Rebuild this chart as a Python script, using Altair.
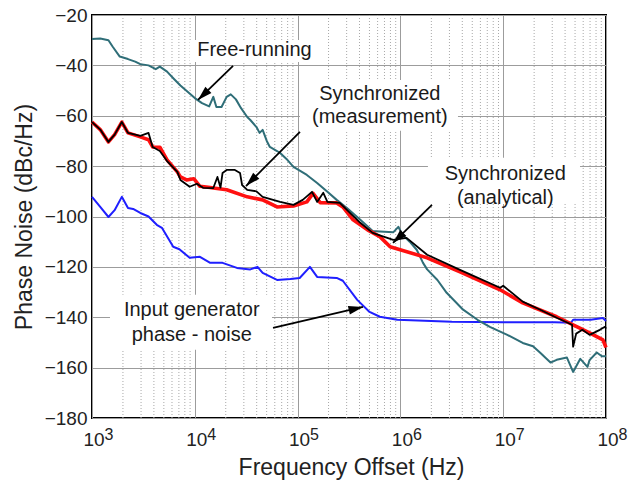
import math

import altair as alt
import numpy as np
import pandas as pd

# ---- phase-noise traces: log10(offset frequency / Hz) and level in dBc/Hz ----
free_exp = [3.00, 3.08, 3.16, 3.20, 3.27, 3.35, 3.42, 3.47, 3.55, 3.62,
            3.66, 3.73, 3.80, 3.86, 3.93, 4.00, 4.07, 4.14, 4.18, 4.21,
            4.26, 4.31, 4.35, 4.40, 4.45, 4.51, 4.54, 4.60, 4.63, 4.66,
            4.70, 4.73, 4.80, 4.83, 4.90, 4.96, 5.09, 5.19, 5.29, 5.38,
            5.48, 5.61, 5.73, 5.80, 5.93, 5.98, 6.02, 6.09, 6.16, 6.22,
            6.26, 6.36, 6.45, 6.61, 6.75, 6.87, 7.04, 7.19, 7.29, 7.36,
            7.46, 7.52, 7.62, 7.68, 7.75, 7.82, 7.84, 7.91, 7.96, 8.00]
free_db = [-29.5, -29.3, -30.0, -32.5, -36.5, -37.5, -38.5, -39.5, -40.0, -41.5,
           -40.5, -42.5, -45.5, -48.0, -50.5, -53.0, -55.0, -56.3, -52.5, -56.5,
           -56.5, -52.5, -51.5, -53.5, -57.0, -60.5, -61.7, -64.5, -66.8, -65.6,
           -70.0, -72.4, -74.0, -74.8, -77.5, -80.3, -83.5, -86.7, -90.2, -93.4,
           -96.6, -101.3, -105.8, -106.0, -106.3, -104.1, -107.3, -110.0, -113.3, -118.4,
           -121.0, -125.2, -130.3, -137.0, -141.0, -143.8, -147.0, -150.2, -151.5, -154.1,
           -158.0, -156.9, -156.0, -161.7, -156.5, -159.7, -157.0, -154.0, -155.5, -155.5]

meas_exp = [3.00, 3.08, 3.16, 3.22, 3.29, 3.35, 3.47, 3.55, 3.59, 3.66,
            3.73, 3.83, 3.86, 3.95, 4.02, 4.08, 4.18, 4.22, 4.25, 4.27,
            4.31, 4.39, 4.44, 4.46, 4.51, 4.60, 4.66, 4.83, 4.96, 5.05,
            5.14, 5.19, 5.25, 5.29, 5.41, 5.48, 5.61, 5.73, 5.80, 5.93,
            6.06, 6.26, 6.58, 6.97, 7.00, 7.19, 7.36, 7.52, 7.67, 7.68,
            7.71, 7.77, 7.84, 7.94, 7.99, 8.00]
meas_db = [-62.5, -65.5, -70.4, -67.5, -62.5, -66.8, -68.0, -66.8, -72.4, -74.0,
           -78.0, -82.3, -85.5, -88.2, -87.0, -88.6, -88.7, -84.3, -88.5, -82.7,
           -81.5, -81.5, -82.7, -87.5, -89.4, -90.0, -92.2, -94.2, -95.4, -93.4,
           -90.2, -94.2, -90.6, -94.2, -94.6, -97.4, -102.5, -106.5, -107.5, -109.3,
           -108.5, -115.2, -121.2, -128.3, -127.5, -133.8, -137.0, -140.2, -143.0, -151.7,
           -146.5, -145.0, -147.0, -145.0, -143.8, -144.5]

anal_exp = [3.00, 3.08, 3.16, 3.22, 3.29, 3.35, 3.47, 3.55, 3.59, 3.66,
            3.73, 3.83, 3.86, 3.92, 3.99, 4.05, 4.15, 4.18, 4.31, 4.51,
            4.66, 4.80, 4.96, 5.09, 5.15, 5.22, 5.38, 5.44, 5.54, 5.68,
            5.80, 5.90, 6.26, 6.58, 6.97, 7.19, 7.52, 7.72, 7.84, 7.97, 8.00]
anal_db = [-62.5, -65.5, -70.4, -67.5, -62.5, -66.8, -68.4, -69.5, -72.4, -72.5,
           -77.5, -82.3, -84.3, -85.5, -85.0, -88.0, -88.5, -88.7, -89.4, -92.2,
           -93.4, -96.2, -95.8, -94.2, -90.8, -94.5, -94.6, -96.2, -101.3, -105.3,
           -108.0, -112.0, -116.4, -122.0, -129.1, -134.3, -139.8, -143.8, -146.2, -149.0, -152.0]

input_exp = [3.00, 3.08, 3.16, 3.22, 3.29, 3.35, 3.40, 3.47, 3.55, 3.63,
             3.68, 3.79, 3.85, 3.95, 4.05, 4.15, 4.27, 4.41, 4.54, 4.61,
             4.66, 4.80, 4.93, 5.02, 5.12, 5.19, 5.38, 5.44, 5.58, 5.70,
             5.80, 5.97, 6.50, 7.00, 7.50, 7.66, 7.68, 7.85, 7.97, 8.00]
input_db = [-92.2, -96.2, -100.2, -97.5, -92.2, -96.6, -97.0, -98.6, -100.0, -103.3,
            -104.5, -112.0, -113.0, -116.4, -116.0, -118.4, -118.4, -120.4, -121.0, -120.0,
            -122.4, -125.2, -124.8, -124.4, -120.0, -124.0, -124.4, -125.5, -133.1, -137.9,
            -139.8, -141.0, -141.8, -142.0, -142.0, -142.2, -141.0, -141.0, -140.3, -141.5]

# ---- axes ----
decade_exps = [3, 4, 5, 6, 7, 8]
minor_mults = [2, 3, 4, 5, 6, 7, 8, 9]
y_ticks = [-180, -160, -140, -120, -100, -80, -60, -40, -20]

# ---- annotations ----
note_exp = [4.58, 5.80, 5.80, 7.02, 7.02, 3.97, 3.97]
note_db = [-33.9, -51.3, -60.5, -83.1, -92.6, -137.1, -147.0]
note_text = ["Free-running", "Synchronized", "(measurement)",
             "Synchronized", "(analytical)", "Input generator", "phase - noise"]

arrow_tail_exp = [4.372, 5.023, 6.307, 4.761]
arrow_tail_db = [-40.2, -66.4, -95.4, -144.2]
arrow_tip_exp = [4.031, 4.498, 5.928, 5.636]
arrow_tip_db = [-53.7, -87.9, -110.5, -135.9]

# ---- layout / style ----
W, H = 514, 403
X_DOM = [1e3, 1e8]
Y_DOM = [-180, -20]
AXIS_FONT = "Liberation Sans, Arial, Helvetica, sans-serif"
TEXT_COLOR = "#222222"

# white panels behind the annotation text (exp_lo, exp_hi, dB_lo, dB_hi)
label_boxes = [
    (3.953, 5.218, -38.7, -29.9),
    (5.023, 6.560, -66.0, -45.8),
    (6.268, 7.747, -95.0, -76.7),
    (3.175, 4.751, -152.9, -131.1),
]

xs = alt.Scale(type="log", domain=X_DOM)
ys = alt.Scale(domain=Y_DOM, nice=False, zero=False)

x_axis = alt.Axis(
    values=[10.0 ** e for e in decade_exps],
    labelExpr="'10'",
    labelFont=AXIS_FONT, labelFontSize=19, labelColor=TEXT_COLOR,
    labelAlign="center", labelOffset=1.5, labelPadding=12,
    labelFlush=False, labelOverlap=False,
    ticks=False, domain=False,
    grid=True, gridColor="#9c9c9c", gridWidth=1,
    title="Frequency Offset (Hz)", titleFont=AXIS_FONT, titleFontSize=23,
    titleFontWeight="normal", titleColor=TEXT_COLOR,
    titleBaseline="alphabetic", titleY=56, titleX=W / 2 + 2,
)
y_axis = alt.Axis(
    values=y_ticks,
    labelFont=AXIS_FONT, labelFontSize=19, labelColor=TEXT_COLOR,
    labelPadding=5, ticks=False, domain=False,
    grid=True, gridColor="#9c9c9c", gridWidth=1,
    title="Phase Noise (dBc/Hz)", titleFont=AXIS_FONT, titleFontSize=23,
    titleFontWeight="normal", titleColor=TEXT_COLOR,
    titleAngle=270, titleBaseline="middle", titleAlign="center",
    titleX=-68, titleY=H / 2,
)


def X(field="f"):
    return alt.X(f"{field}:Q", scale=xs, axis=x_axis)


def Y(field="pn"):
    return alt.Y(f"{field}:Q", scale=ys, axis=y_axis)


def trace(exps, dbs):
    return pd.DataFrame({"f": np.power(10.0, exps), "pn": dbs, "i": range(len(exps))})


# minor (dotted) decade subdivisions
minor_df = pd.DataFrame({"f": [m * 10.0 ** d for d in decade_exps[:-1] for m in minor_mults]})
minor = alt.Chart(minor_df).mark_rule(
    color="#a8a8a8", strokeWidth=1, strokeDash=[1, 2]
).encode(x=X())

boxes_df = pd.DataFrame({
    "f": [10.0 ** b[0] for b in label_boxes],
    "f2": [10.0 ** b[1] for b in label_boxes],
    "pn": [b[2] for b in label_boxes],
    "pn2": [b[3] for b in label_boxes],
})
boxes = alt.Chart(boxes_df).mark_rect(color="white", opacity=1).encode(
    x=X(), x2="f2:Q", y=Y(), y2="pn2:Q"
)


def line(exps, dbs, color, width):
    return alt.Chart(trace(exps, dbs)).mark_line(
        color=color, strokeWidth=width, strokeJoin="round"
    ).encode(x=X(), y=Y(), order="i:Q")


blue_line = line(input_exp, input_db, "#1f1fff", 2.0)
teal_line = line(free_exp, free_db, "#2f6e78", 2.0)
red_line = line(anal_exp, anal_db, "#ff1010", 3.6)
black_line = line(meas_exp, meas_db, "#000000", 1.8)

notes_df = pd.DataFrame({"f": np.power(10.0, note_exp), "pn": note_db, "t": note_text})
notes = alt.Chart(notes_df).mark_text(
    font=AXIS_FONT, fontSize=20, color="#1a1a1a", align="center", baseline="middle"
).encode(x=X(), y=Y(), text="t:N")

# arrows: shaft + filled head rotated along the shaft direction
px_per_dec = W / (math.log10(X_DOM[1]) - math.log10(X_DOM[0]))
px_per_db = H / (Y_DOM[1] - Y_DOM[0])
angles = []
for te, td, he, hd in zip(arrow_tail_exp, arrow_tail_db, arrow_tip_exp, arrow_tip_db):
    dx = (he - te) * px_per_dec
    dy = -(hd - td) * px_per_db
    angles.append(math.degrees(math.atan2(dx, -dy)) % 360)

arrows_df = pd.DataFrame({
    "f": np.power(10.0, arrow_tail_exp), "pn": arrow_tail_db,
    "f2": np.power(10.0, arrow_tip_exp), "pn2": arrow_tip_db,
})
shafts = alt.Chart(arrows_df).mark_rule(color="black", strokeWidth=1.8).encode(
    x=X(), x2="f2:Q", y=Y(), y2="pn2:Q"
)
heads_df = pd.DataFrame({"f": np.power(10.0, arrow_tip_exp), "pn": arrow_tip_db, "a": angles})
heads = alt.Chart(heads_df).mark_point(
    shape="M0,0L0.6,2L-0.6,2Z", filled=True, color="black", opacity=1,
    size=210, strokeWidth=0
).encode(x=X(), y=Y(), angle=alt.Angle("a:Q", scale=None))

# superscript exponents next to the "10" tick labels
exp_df = pd.DataFrame({"f": [10.0 ** e for e in decade_exps], "t": [str(e) for e in decade_exps]})
exps = alt.Chart(exp_df).mark_text(
    font=AXIS_FONT, fontSize=16, color=TEXT_COLOR, align="left", baseline="alphabetic",
    dx=12.5
).encode(x=X(), y=alt.value(H + 22), text="t:N")

chart = alt.layer(
    minor, boxes, blue_line, teal_line, red_line, black_line,
    shafts, heads, notes, exps
).properties(
    width=W, height=H,
    padding={"left": 92, "top": 15, "right": 29, "bottom": 67},
    autosize="none", background="white",
).configure_view(stroke="black", strokeWidth=2)

chart.save("out.html", embed_options={"renderer": "svg", "actions": False})
